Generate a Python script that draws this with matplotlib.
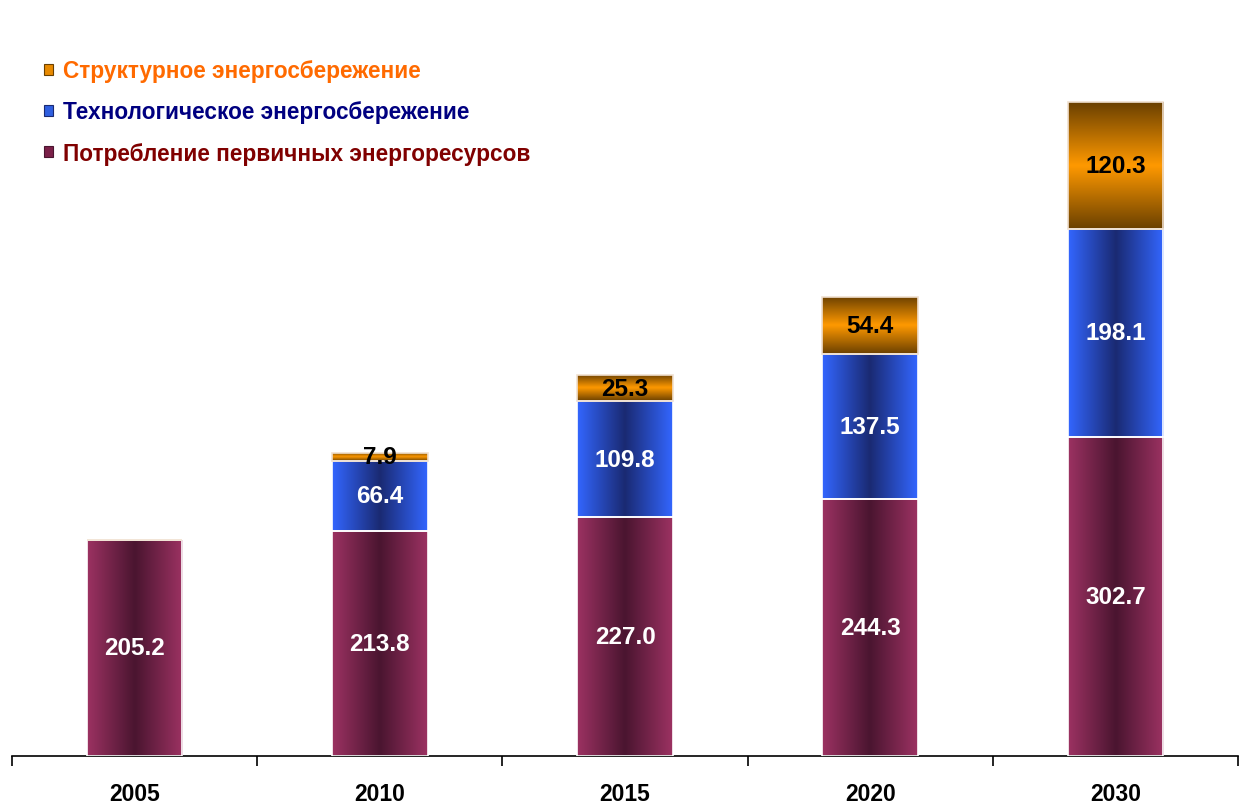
import numpy as np
import matplotlib.pyplot as plt
from matplotlib.colors import LinearSegmentedColormap
from matplotlib.patches import Patch

years = ['2005', '2010', '2015', '2020', '2030']
consumption = [205.2, 213.8, 227.0, 244.3, 302.7]
tech_saving = [0, 66.4, 109.8, 137.5, 198.1]
struct_saving = [0, 7.9, 25.3, 54.4, 120.3]

labels = ['Структурное энергосбережение',
          'Технологическое энергосбережение',
          'Потребление первичных энергоресурсов']

plt.rcParams['font.family'] = ['Liberation Sans', 'DejaVu Sans']

maroon_cm = LinearSegmentedColormap.from_list('m', ['#9c3262', '#4a1530', '#9c3262'])
blue_cm = LinearSegmentedColormap.from_list('b', ['#3366ff', '#1a2a72', '#3366ff'])
orange_cm = LinearSegmentedColormap.from_list('o', ['#6a4000', '#ff9900', '#6a4000'])

fig = plt.figure(figsize=(12.44, 8.12), dpi=100)
ax = fig.add_axes([12 / 1244, 55 / 812, 1226 / 1244, 702 / 812])

x = np.arange(len(years))
w = 0.39
cons = np.array(consumption)
tech = np.array(tech_saving)
struc = np.array(struct_saving)

grad = np.linspace(0, 1, 256)


def shade(bars, cmap, horizontal=True):
    for b in bars:
        if b.get_height() <= 0:
            continue
        x0, y0 = b.get_x(), b.get_y()
        x1, y1 = x0 + b.get_width(), y0 + b.get_height()
        img = grad[None, :] if horizontal else grad[:, None]
        im = ax.imshow(img, cmap=cmap, extent=[x0, x1, y0, y1], aspect='auto',
                       interpolation='bicubic', zorder=2)
        im.set_clip_path(b)


b1 = ax.bar(x, cons, w, facecolor='none', edgecolor='white', lw=1.2, zorder=3)
b2 = ax.bar(x, tech, w, bottom=cons, facecolor='none', edgecolor='white', lw=1.2, zorder=3)
b3 = ax.bar(x, struc, w, bottom=cons + tech, facecolor='none', edgecolor='#f0e0d0', lw=1.2, zorder=3)
shade(b1, maroon_cm)
shade(b2, blue_cm)
shade(b3, orange_cm, horizontal=False)

fs = 17.5
for i in range(len(years)):
    ax.text(x[i], cons[i] / 2, f'{cons[i]:.1f}', ha='center', va='center',
            color='white', fontsize=fs, fontweight='bold', zorder=4)
    if tech[i] > 0:
        ax.text(x[i], cons[i] + tech[i] / 2, f'{tech[i]:.1f}', ha='center', va='center',
                color='white', fontsize=fs, fontweight='bold', zorder=4)
    if struc[i] > 0:
        ax.text(x[i], cons[i] + tech[i] + struc[i] / 2, f'{struc[i]:.1f}', ha='center',
                va='center', color='black', fontsize=fs, fontweight='bold', zorder=4)

ax.set_xlim(-0.5, len(years) - 0.5)
ax.set_ylim(0, 702 / 1.053)
for s in ['top', 'right', 'left']:
    ax.spines[s].set_visible(False)
ax.spines['bottom'].set_linewidth(1.2)
ax.set_yticks([])
ax.set_xticks(x)
ax.set_xticklabels(years, fontsize=16.5, fontweight='bold')
ax.tick_params(axis='x', which='major', length=0, pad=19)
ax.set_xticks(np.arange(len(years) + 1) - 0.5, minor=True)
ax.tick_params(axis='x', which='minor', length=7, width=1.2, direction='out')

handles = [Patch(facecolor='#e88a00', edgecolor='#6a4000', lw=0.8),
           Patch(facecolor='#2f5fe0', edgecolor='#1a2a72', lw=0.8),
           Patch(facecolor='#7a2048', edgecolor='#4a1530', lw=0.8)]
leg = fig.legend(handles, labels, loc='upper left', bbox_to_anchor=(24 / 1244, 1 - 40 / 812),
                 frameon=False, handlelength=0.36, handleheight=0.36, handletextpad=0.45,
                 labelspacing=0.8, prop={'size': 16.3, 'weight': 'bold'})
for t, c in zip(leg.get_texts(), ['#ff6a00', '#000080', '#800000']):
    t.set_color(c)

fig.savefig('out.png', dpi=100)
